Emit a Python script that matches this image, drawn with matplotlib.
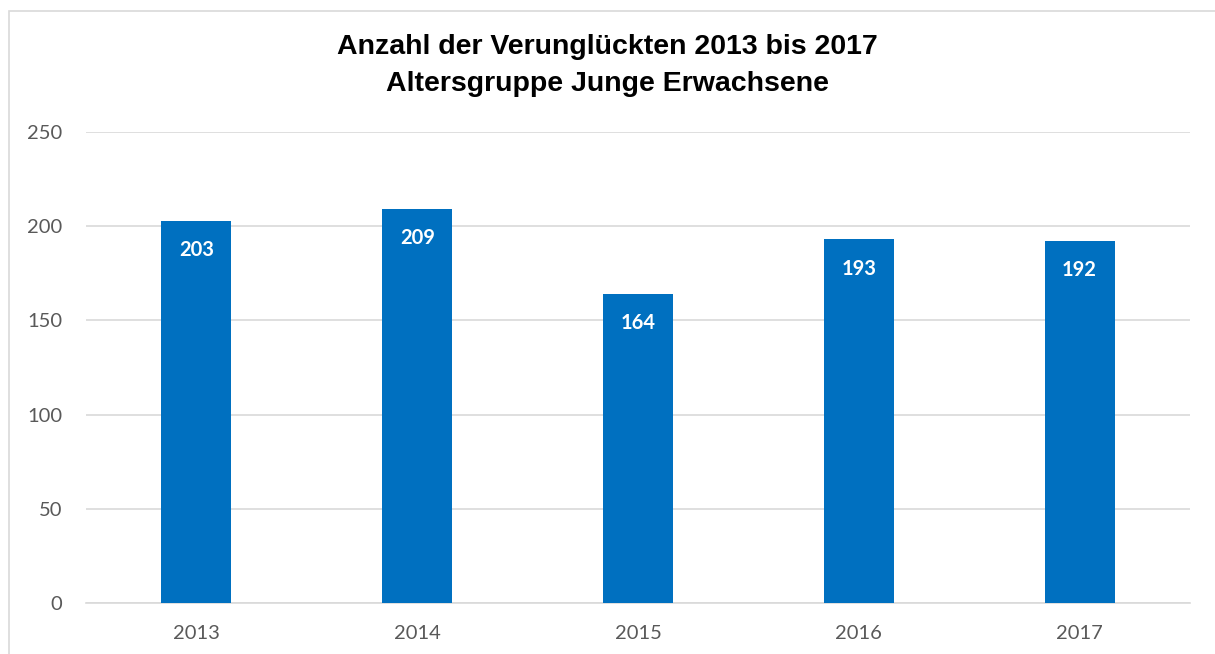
import matplotlib
matplotlib.use("Agg")
import matplotlib.pyplot as plt
from matplotlib.patches import Rectangle

years = ["2013", "2014", "2015", "2016", "2017"]
values = [203, 209, 164, 193, 192]
yticks = [0, 50, 100, 150, 200, 250]

W, H = 1215, 654
fig = plt.figure(figsize=(W / 100, H / 100), dpi=100)
fig.patch.set_facecolor("white")

# outer chart border
fig.add_artist(Rectangle((9 / W, -0.1), 1.2, (H - 11) / H + 0.1, transform=fig.transFigure,
                         fill=False, edgecolor="#d9d9d9", linewidth=1.2))

ax = fig.add_axes([86 / W, (H - 603) / H, (1190 - 86) / W, (603 - 132) / H])
x = list(range(len(years)))
bars = ax.bar(x, values, width=0.317, color="#0070c0", zorder=3)
ax.set_xlim(-0.5, len(years) - 0.5)
ax.set_ylim(0, 250)
ax.set_yticks(yticks)
ax.set_xticks(x)
ax.set_xticklabels(years)
ax.yaxis.grid(True, color="#d9d9d9", linewidth=1.2, zorder=0)
for s in ["top", "right", "left"]:
    ax.spines[s].set_visible(False)
ax.spines["bottom"].set_color("#d9d9d9")
ax.spines["bottom"].set_linewidth(1.2)
ax.tick_params(axis="both", length=0, labelsize=14.5, labelcolor="#595959")
ax.tick_params(axis="y", pad=17)
ax.tick_params(axis="x", pad=16)
for lab in ax.get_xticklabels() + ax.get_yticklabels():
    lab.set_family("Lato")

for b, v in zip(bars, values):
    ax.annotate(str(v), (b.get_x() + b.get_width() / 2, v), xytext=(0, -21),
                textcoords="offset points", ha="center", va="center",
                color="white", fontsize=14.5, fontweight="bold", family="Lato")

fig.text(0.5, (H - 47) / H, "Anzahl der Verunglückten 2013 bis 2017", ha="center", va="center",
         fontsize=20.5, fontweight="bold", family="Liberation Sans")
fig.text(0.5, (H - 84) / H, "Altersgruppe Junge Erwachsene", ha="center", va="center",
         fontsize=20.5, fontweight="bold", family="Liberation Sans")

fig.savefig("out.png", dpi=100)
